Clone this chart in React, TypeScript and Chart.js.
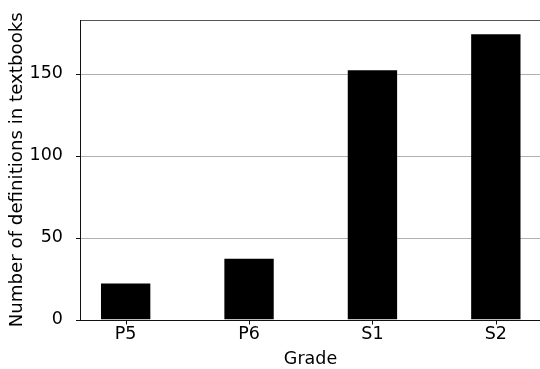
import React, { useEffect, useRef } from "react";
import { Chart, registerables } from "chart.js";

Chart.register(...registerables);

const categories = ["P5", "P6", "S1", "S2"];
const definitionCounts = [22, 37, 152, 174];
const yTickValues = [0, 50, 100, 150];

const FONT = "'DejaVu Sans', sans-serif";
const FS = 17.5;

const framePlugin = {
  id: "frame",
  beforeDatasetsDraw(chart: any) {
    const { ctx, chartArea, scales } = chart;
    ctx.save();
    ctx.lineWidth = 1;
    ctx.strokeStyle = "#b0b0b0";
    yTickValues.forEach((v) => {
      if (v === 0) return;
      const py = Math.round(scales.y.getPixelForValue(v)) + 0.5;
      ctx.beginPath();
      ctx.moveTo(chartArea.left, py);
      ctx.lineTo(chartArea.right, py);
      ctx.stroke();
    });
    ctx.restore();
  },
  afterDraw(chart: any) {
    const { ctx, chartArea, scales } = chart;
    ctx.save();
    ctx.lineWidth = 1;
    ctx.strokeStyle = "#555";
    ctx.beginPath();
    ctx.moveTo(chartArea.left, Math.round(chartArea.top) + 0.5);
    ctx.lineTo(chartArea.right, Math.round(chartArea.top) + 0.5);
    ctx.stroke();
    ctx.strokeStyle = "#111";
    const lx = Math.round(chartArea.left) + 0.5;
    ctx.beginPath();
    ctx.moveTo(lx, chartArea.top);
    ctx.lineTo(lx, chartArea.bottom + 0.5);
    ctx.stroke();
    const by = Math.round(chartArea.bottom) + 0.5;
    ctx.beginPath();
    ctx.moveTo(chartArea.left, by);
    ctx.lineTo(chartArea.right, by);
    ctx.stroke();
    categories.forEach((_, i) => {
      const px = Math.round(scales.x.getPixelForValue(i)) + 0.5;
      ctx.beginPath();
      ctx.moveTo(px, by);
      ctx.lineTo(px, by + 4);
      ctx.stroke();
    });
    yTickValues.forEach((v) => {
      const py = Math.round(scales.y.getPixelForValue(v)) + 0.5;
      ctx.beginPath();
      ctx.moveTo(lx - 4.5, py);
      ctx.lineTo(lx, py);
      ctx.stroke();
    });
    ctx.restore();
  },
};

export default function App() {
  const ref = useRef<HTMLCanvasElement | null>(null);
  useEffect(() => {
    document.body.style.margin = "0";
    document.body.style.overflow = "hidden";
    const canvas = ref.current;
    if (!canvas) return;
    const chart = new Chart(canvas, {
      type: "bar",
      data: {
        datasets: [
          {
            data: definitionCounts.map((v, i) => ({ x: i, y: v })),
            backgroundColor: "#000",
            borderWidth: 0,
            barPercentage: 0.4,
            categoryPercentage: 1.0,
          },
        ],
      },
      options: {
        animation: false,
        responsive: false,
        maintainAspectRatio: false,
        layout: { padding: { top: 20, right: 0, left: 0, bottom: 0 } },
        plugins: { legend: { display: false }, tooltip: { enabled: false } },
        scales: {
          x: {
            type: "linear",
            offset: false,
            min: -0.37,
            max: 3.52,
            afterBuildTicks: (scale: any) => {
              scale.ticks = categories.map((_, i) => ({ value: i }));
            },
            afterFit: (scale: any) => {
              scale.height = 49.5;
            },
            ticks: {
              color: "#000",
              font: { family: FONT, size: FS },
              padding: -4,
              maxRotation: 0,
              autoSkip: false,
              callback: (v: any) => categories[Math.round(Number(v))] ?? "",
            },
            grid: { display: false },
            border: { display: false },
            title: {
              display: false,
            },
          },
          y: {
            type: "linear",
            min: 0,
            max: 182.7,
            afterBuildTicks: (scale: any) => {
              scale.ticks = yTickValues.map((v) => ({ value: v }));
            },
            afterFit: (scale: any) => {
              scale.width = 80;
            },
            ticks: {
              color: "#000",
              font: { family: FONT, size: FS },
              padding: 9,
            },
            grid: { display: false },
            border: { display: false },
            title: {
              display: true,
              text: "Number of definitions in textbooks",
              color: "#000",
              font: { family: FONT, size: 18.2 },
              padding: { top: 6, bottom: 0 },
            },
          },
        },
      },
      plugins: [
        framePlugin,
        {
          id: "xTitle",
          afterDraw(chart: any) {
            const { ctx, chartArea } = chart;
            ctx.save();
            ctx.fillStyle = "#000";
            ctx.font = `${FS}px ${FONT}`;
            ctx.textAlign = "center";
            ctx.textBaseline = "alphabetic";
            // x-axis title centred on the visible plot (matplotlib axes centre)
            const cx = (chartArea.left + 541) / 2;
            ctx.fillText("Grade", cx, 364);
            ctx.restore();
          },
        },
      ],
    });
    return () => chart.destroy();
  }, []);
  return (
    <div style={{ width: 540, height: 369, overflow: "hidden" }}>
      <canvas ref={ref} width={560} height={369} style={{ display: "block" }} />
    </div>
  );
}
